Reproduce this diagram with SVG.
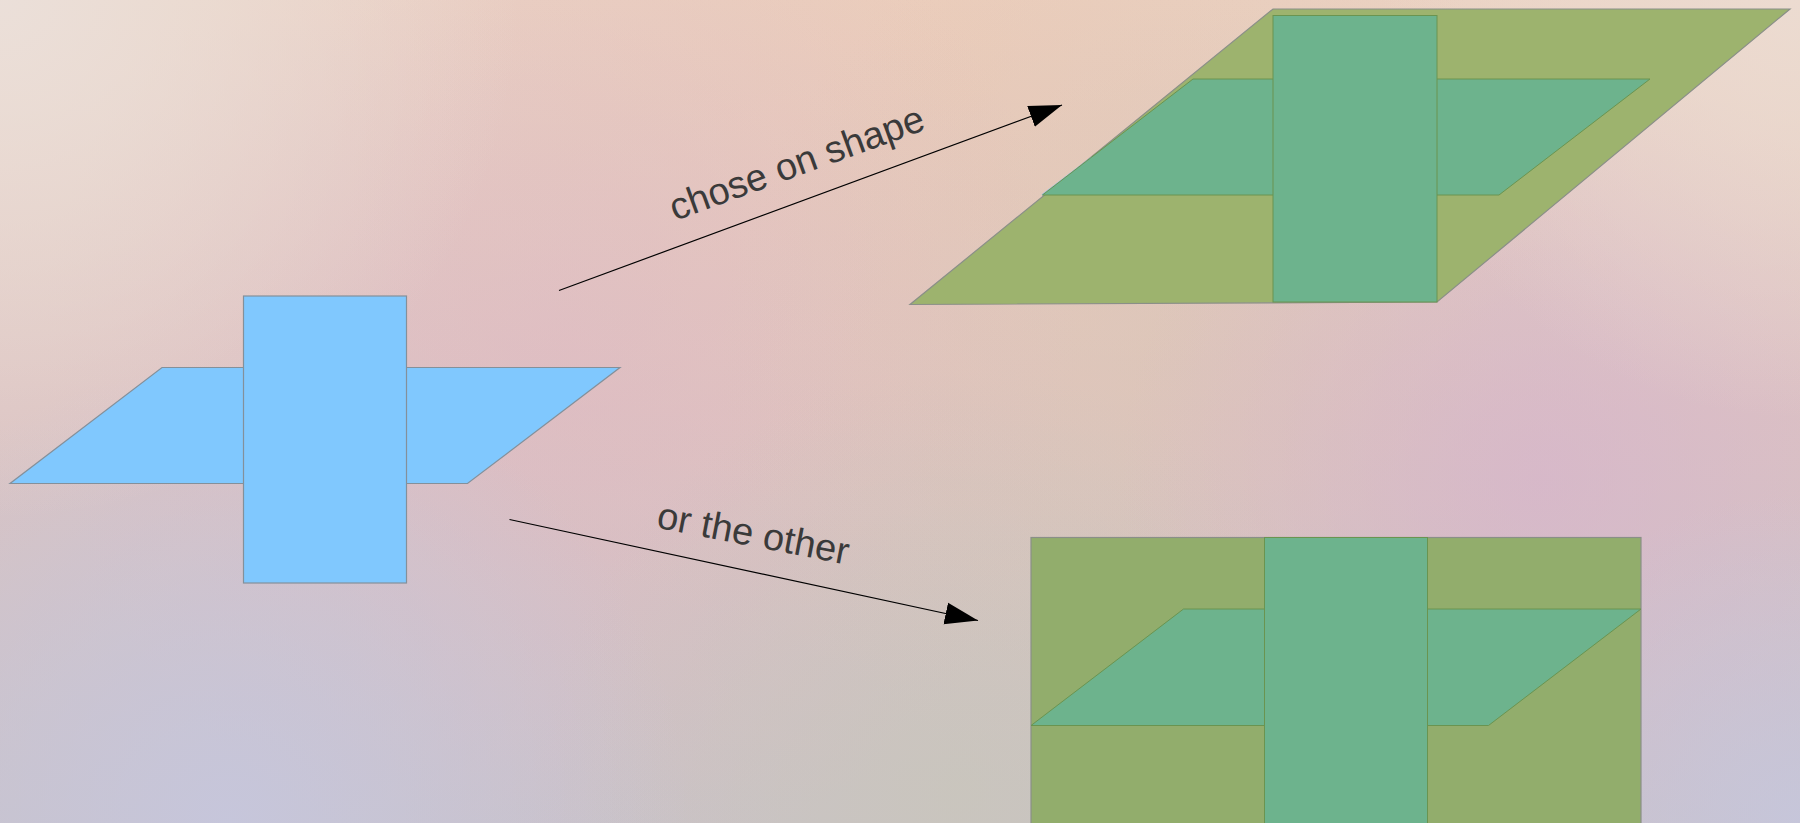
<svg xmlns="http://www.w3.org/2000/svg" width="1800" height="823" viewBox="0 0 1800 823">
  <defs>
    <linearGradient id="bgBase" x1="0" y1="0" x2="0" y2="1">
      <stop offset="0" stop-color="#ebd3c4"/>
      <stop offset="0.5" stop-color="#dcc3c2"/>
      <stop offset="1" stop-color="#c9c2c8"/>
    </linearGradient>
    <radialGradient id="gTL" cx="0" cy="0" r="520" gradientUnits="userSpaceOnUse">
      <stop offset="0" stop-color="#ebe0da" stop-opacity="0.95"/>
      <stop offset="1" stop-color="#ebe0da" stop-opacity="0"/>
    </radialGradient>
    <radialGradient id="gPeach" cx="950" cy="60" r="620" gradientUnits="userSpaceOnUse">
      <stop offset="0" stop-color="#ebc8b4" stop-opacity="0.6"/>
      <stop offset="1" stop-color="#ebc8b4" stop-opacity="0"/>
    </radialGradient>
    <radialGradient id="gPink" cx="560" cy="360" r="520" gradientUnits="userSpaceOnUse">
      <stop offset="0" stop-color="#deb8c4" stop-opacity="0.55"/>
      <stop offset="1" stop-color="#deb8c4" stop-opacity="0"/>
    </radialGradient>
    <radialGradient id="gBeigeMid" cx="1180" cy="360" r="460" gradientUnits="userSpaceOnUse">
      <stop offset="0" stop-color="#dac6b6" stop-opacity="0.6"/>
      <stop offset="1" stop-color="#dac6b6" stop-opacity="0"/>
    </radialGradient>
    <radialGradient id="gLavL" cx="230" cy="823" r="460" gradientUnits="userSpaceOnUse">
      <stop offset="0" stop-color="#c6c6dc" stop-opacity="0.95"/>
      <stop offset="1" stop-color="#c6c6dc" stop-opacity="0"/>
    </radialGradient>
    <radialGradient id="gPurpR" cx="1540" cy="480" r="420" gradientUnits="userSpaceOnUse">
      <stop offset="0" stop-color="#d6b4cc" stop-opacity="0.7"/>
      <stop offset="1" stop-color="#d6b4cc" stop-opacity="0"/>
    </radialGradient>
    <radialGradient id="gBeige" cx="960" cy="790" r="420" gradientUnits="userSpaceOnUse">
      <stop offset="0" stop-color="#c9c6ba" stop-opacity="0.75"/>
      <stop offset="1" stop-color="#c9c6ba" stop-opacity="0"/>
    </radialGradient>
    <radialGradient id="gLavR" cx="1800" cy="823" r="330" gradientUnits="userSpaceOnUse">
      <stop offset="0" stop-color="#c6c6dc" stop-opacity="0.9"/>
      <stop offset="1" stop-color="#c6c6dc" stop-opacity="0"/>
    </radialGradient>
    <radialGradient id="gTR" cx="1800" cy="0" r="420" gradientUnits="userSpaceOnUse">
      <stop offset="0" stop-color="#ecdcd2" stop-opacity="0.9"/>
      <stop offset="1" stop-color="#ecdcd2" stop-opacity="0"/>
    </radialGradient>
    <marker id="arrow" markerUnits="userSpaceOnUse" markerWidth="34" markerHeight="24" refX="33" refY="11" orient="auto" viewBox="0 0 34 22">
      <path d="M0,0 L33,11 L0,22 z" fill="#000"/>
    </marker>
    <style>
      .blue { fill: #80c8fe; stroke: #84909a; stroke-width: 1.2; }
      .outerTop { fill: #9db36e; stroke: #8a8f88; stroke-width: 1.2; }
      .outerBot { fill: #92ad6c; stroke: #8a8f88; stroke-width: 1.2; }
      .inner { fill: #6db38d; stroke: #6a9450; stroke-width: 1; }
      .conn { stroke: #000; stroke-width: 1.2; fill: none; marker-end: url(#arrow); }
      .lbl { font-family: "Liberation Sans", Arial, sans-serif; font-size: 38px; fill: #3a3a3a; text-anchor: middle; }
    </style>
  </defs>

  <g id="background">
    <rect x="0" y="0" width="1800" height="823" fill="url(#bgBase)"/>
    <rect x="0" y="0" width="1800" height="823" fill="url(#gPeach)"/>
    <rect x="0" y="0" width="1800" height="823" fill="url(#gPink)"/>
    <rect x="0" y="0" width="1800" height="823" fill="url(#gBeigeMid)"/>
    <rect x="0" y="0" width="1800" height="823" fill="url(#gBeige)"/>
    <rect x="0" y="0" width="1800" height="823" fill="url(#gPurpR)"/>
    <rect x="0" y="0" width="1800" height="823" fill="url(#gLavL)"/>
    <rect x="0" y="0" width="1800" height="823" fill="url(#gLavR)"/>
    <rect x="0" y="0" width="1800" height="823" fill="url(#gTL)"/>
    <rect x="0" y="0" width="1800" height="823" fill="url(#gTR)"/>
  </g>

  <g id="source-shape">
    <polygon class="blue" points="162,367.5 620,367.5 467.5,483.5 10,483.5"/>
    <rect class="blue" x="243.5" y="296" width="163" height="287"/>
  </g>

  <g id="result-parallelogram">
    <polygon class="outerTop" points="1273,9 1790,9 1437,302 910,304.5"/>
    <line x1="1042" y1="195" x2="1092" y2="157" stroke="#8cbce6" stroke-width="1.5"/>
    <polygon class="inner" points="1193,79 1650,79 1499,195 1042.5,195"/>
    <rect class="inner" x="1273" y="15.5" width="164" height="286.5"/>
  </g>

  <g id="result-rectangle">
    <rect class="outerBot" x="1031" y="537.5" width="610" height="300"/>
    <polygon class="inner" points="1183.5,609 1641,609 1488.5,725.5 1031,725.5"/>
    <rect class="inner" x="1264.5" y="537.5" width="163" height="300"/>
  </g>

  <g id="connectors">
    <line class="conn" x1="559" y1="290.5" x2="1062" y2="105"/>
    <line class="conn" x1="509.5" y1="519.5" x2="978" y2="620.5"/>
  </g>

  <g id="labels">
    <text class="lbl" transform="translate(801,175) rotate(-20)">chose on shape</text>
    <text class="lbl" transform="translate(751,546) rotate(11)">or the other</text>
  </g>
</svg>
